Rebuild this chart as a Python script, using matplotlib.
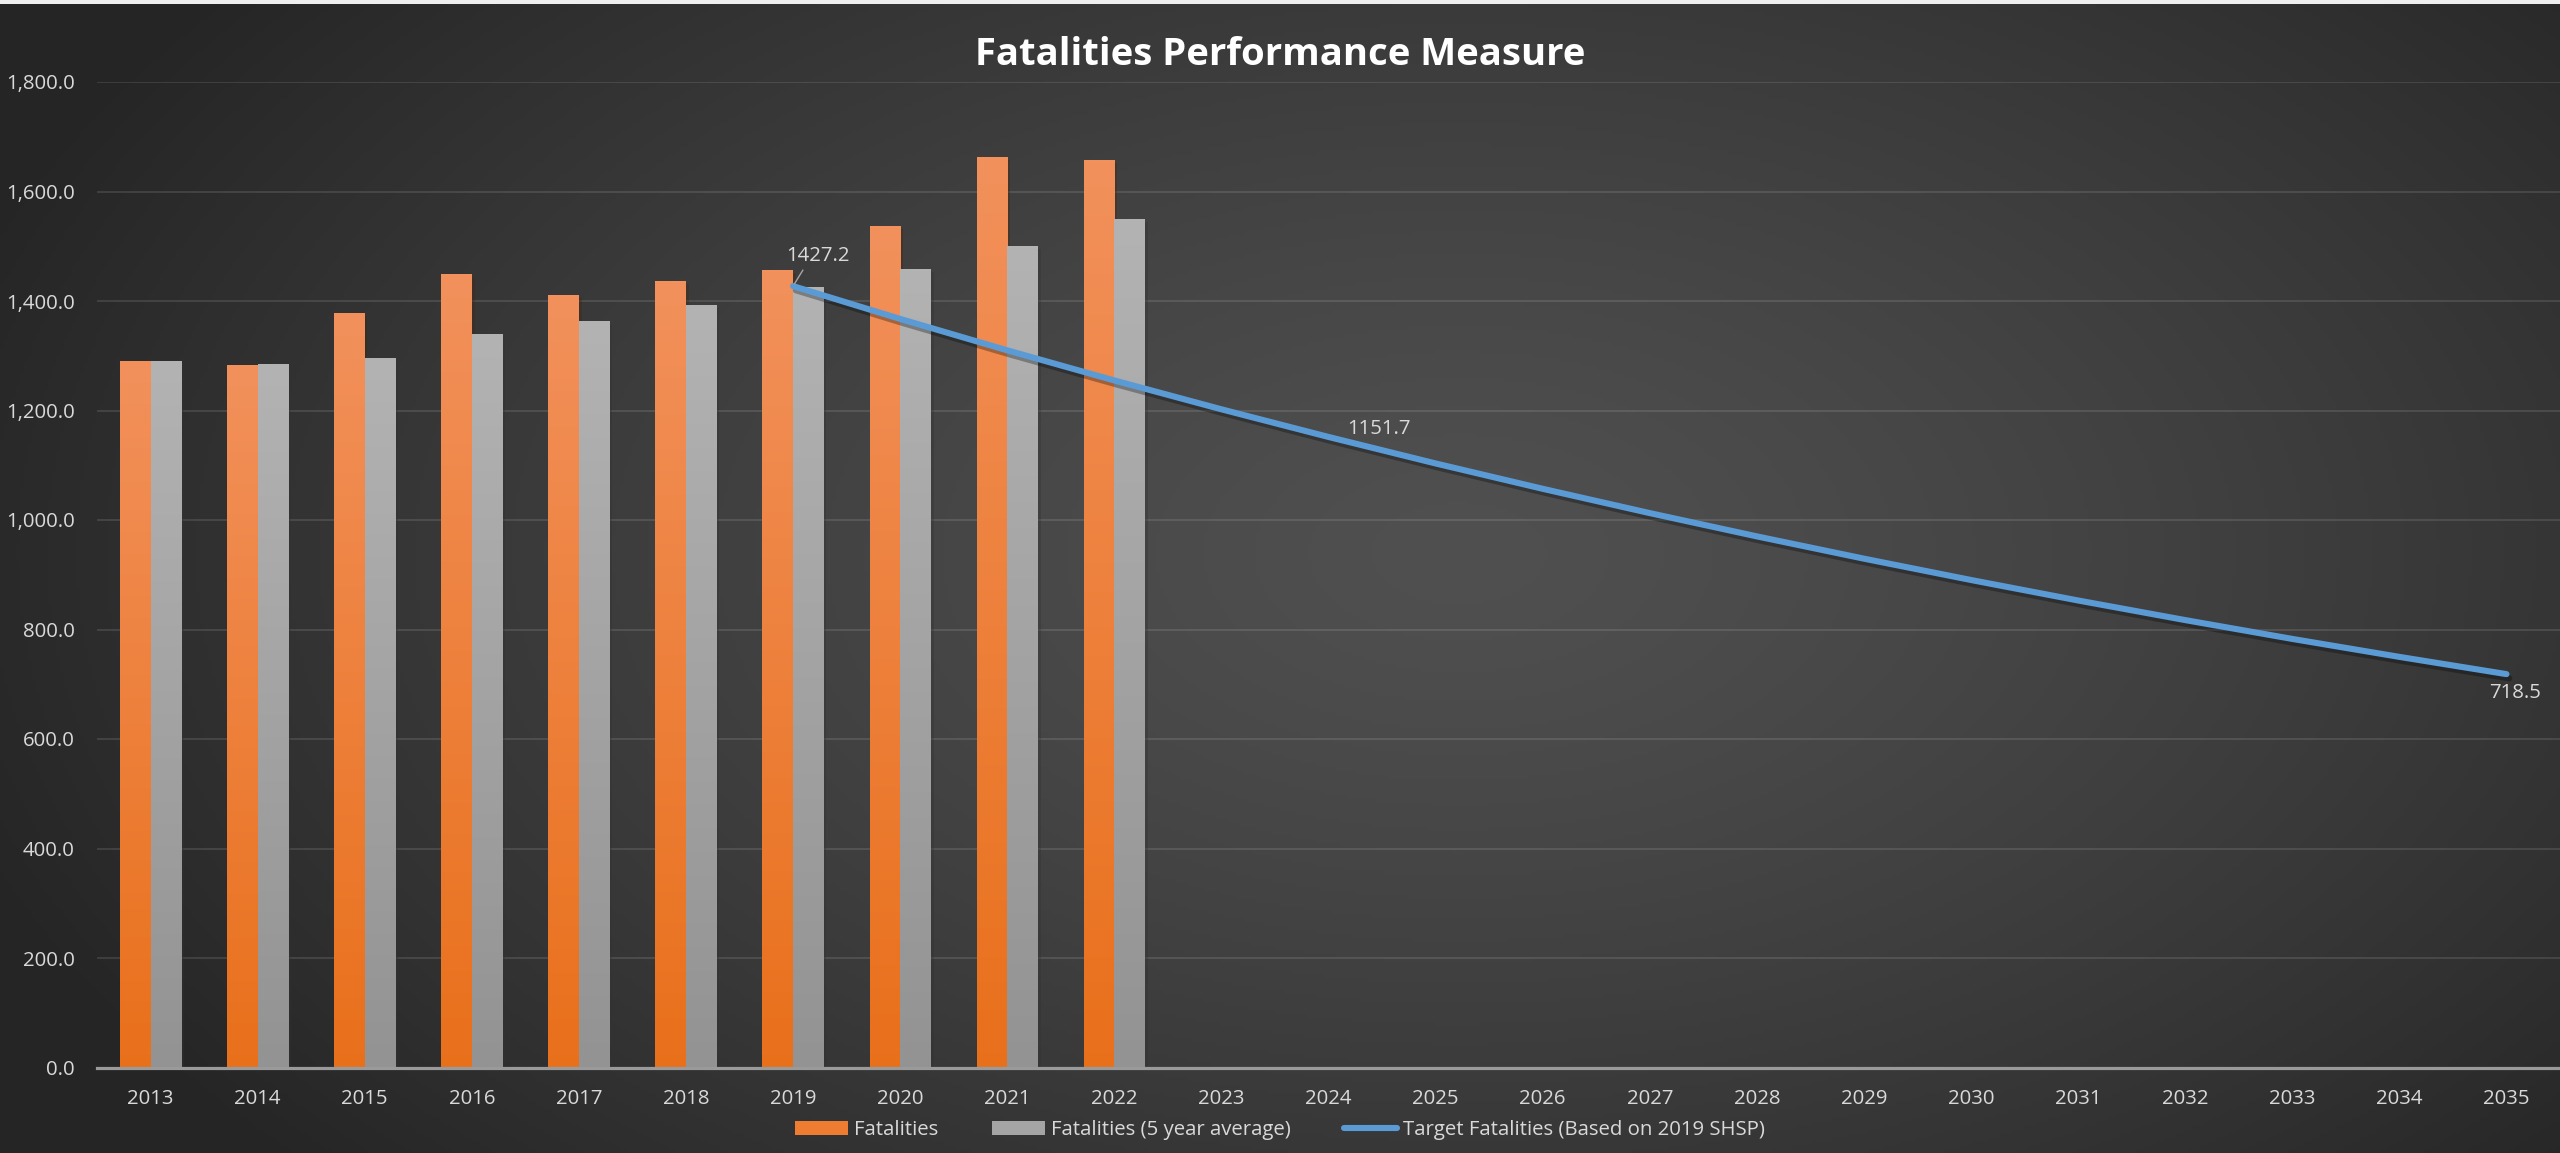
import numpy as np
import matplotlib
matplotlib.use("Agg")
import matplotlib.pyplot as plt
from matplotlib.colors import LinearSegmentedColormap
from matplotlib.patches import Patch, Rectangle
from matplotlib.lines import Line2D
import matplotlib.patheffects as pe

plt.rcParams['font.family'] = ['Open Sans', 'DejaVu Sans']

# ---------------- data ----------------
years = [str(y) for y in range(2013, 2036)]
fatalities = [1290, 1283, 1378, 1449, 1411, 1437, 1457, 1537, 1663, 1658]
fatalities_5yr = [1290, 1285, 1296, 1340, 1363, 1393, 1426, 1458, 1500, 1550]
target_years = years[6:]  # 2019 .. 2035
target = [1427.2, 1367.3, 1309.9, 1254.9, 1202.2, 1151.7, 1103.3, 1057.0,
          1012.6, 970.1, 929.4, 890.4, 853.0, 817.2, 782.8, 750.0, 718.5]
labelled = {"2019": "1427.2", "2024": "1151.7", "2035": "718.5"}
y_ticks = [0, 200, 400, 600, 800, 1000, 1200, 1400, 1600, 1800]

title = "Fatalities Performance Measure"
legend_labels = ["Fatalities", "Fatalities (5 year average)",
                 "Target Fatalities (Based on 2019 SHSP)"]

TXT = '#d9d9d9'
ORANGE = '#ee7d31'
GRAY = '#a5a5a5'
BLUE = '#5b9bd5'
FS = 14.7

fig = plt.figure(figsize=(25.6, 11.53), dpi=100)

# ---------------- background gradient ----------------
bg = fig.add_axes([0, 0, 1, 1], zorder=-10)
gx, gy = np.meshgrid(np.linspace(0, 1, 640), np.linspace(0, 1, 290))
d = np.sqrt(((gx - 0.57) / 0.62) ** 2 + ((gy - 0.52) / 0.80) ** 2)
d = np.clip(d, 0, 1)
val = (0x50 - (0x50 - 0x25) * d ** 1.3) / 255.0
img = np.dstack([val, val, val])
bg.imshow(img, extent=[0, 1, 0, 1], origin='lower', aspect='auto')
bg.set_axis_off()
fig.patches.append(Rectangle((0, 1 - 4 / 1153), 1, 4 / 1153, transform=fig.transFigure,
                             facecolor='#efefef', edgecolor='none', zorder=5))

# ---------------- main axes ----------------
ax = fig.add_axes([97 / 2560, 1 - 1067.5 / 1153, 2463 / 2560, (1067.5 - 82) / 1153])
ax.set_facecolor('none')

x = np.arange(len(years))
xb = np.arange(len(fatalities))
w = 0.286
b1 = ax.bar(xb - w / 2, fatalities, width=w, color=ORANGE, zorder=3,
            path_effects=[pe.SimplePatchShadow(offset=(2, -2), alpha=0.35), pe.Normal()])
b2 = ax.bar(xb + w / 2, fatalities_5yr, width=w, color=GRAY, zorder=3,
            path_effects=[pe.SimplePatchShadow(offset=(2, -2), alpha=0.35), pe.Normal()])

cm_or = LinearSegmentedColormap.from_list('or', ['#e9701b', '#f2915c'])
cm_gr = LinearSegmentedColormap.from_list('gr', ['#939393', '#b3b3b3'])
grad = np.linspace(0, 1, 256).reshape(-1, 1)
for bars, cm in ((b1, cm_or), (b2, cm_gr)):
    for p in bars.patches:
        x0, h, wd = p.get_x(), p.get_height(), p.get_width()
        im = ax.imshow(grad, extent=[x0, x0 + wd, 0, h], origin='lower',
                       aspect='auto', cmap=cm, zorder=3.5)
        im.set_clip_path(p)

tx = [years.index(y) for y in target_years]
ax.plot(tx, target, color=BLUE, lw=4.4, solid_capstyle='round', zorder=5,
        path_effects=[pe.SimpleLineShadow(offset=(2, -3), alpha=0.3, shadow_color='black'),
                      pe.Normal()])

# data labels
for yr, lab in labelled.items():
    i = target_years.index(yr)
    xi, yi = tx[i], target[i]
    if yr == "2019":
        ax.annotate(lab, (xi, yi), xytext=(25, 30), textcoords='offset pixels',
                    ha='center', va='center', color=TXT, fontsize=FS, zorder=6,
                    arrowprops=dict(arrowstyle='-', color='#a6a6a6', lw=1,
                                    shrinkA=1, shrinkB=2, relpos=(0.3, 0)))
    elif yr == "2024":
        ax.annotate(lab, (xi, yi), xytext=(50, 8), textcoords='offset pixels',
                    ha='center', va='center', color=TXT, fontsize=FS, zorder=6)
    else:
        ax.annotate(lab, (xi, yi), xytext=(9, -19), textcoords='offset pixels',
                    ha='center', va='center', color=TXT, fontsize=FS, zorder=6)

ax.set_xlim(-0.5, len(years) - 0.5)
ax.set_ylim(0, 1800)
ax.set_xticks(x)
ax.set_xticklabels(years)
ax.set_yticks(y_ticks)
ax.set_yticklabels([f"{v:,.1f}" for v in y_ticks])
ax.tick_params(axis='both', length=0, colors=TXT, labelsize=FS)
ax.tick_params(axis='y', pad=16)
ax.tick_params(axis='x', pad=15.5)
for s in ['top', 'right', 'left']:
    ax.spines[s].set_visible(False)
ax.spines['bottom'].set_color('#9a9a9a')
ax.spines['bottom'].set_linewidth(2.3)
ax.spines['bottom'].set_zorder(6)
ax.grid(axis='y', color='white', alpha=0.12, lw=1.3, zorder=0)
ax.set_axisbelow(True)

fig.text(0.5, 1 - 55 / 1153, title, ha='center', va='center', color='white',
         fontsize=27.5, fontweight='bold')

handles = [Patch(facecolor=ORANGE, edgecolor='none'),
           Patch(facecolor=GRAY, edgecolor='none'),
           Line2D([0], [0], color=BLUE, lw=4.4, solid_capstyle='round')]
leg = fig.legend(handles, legend_labels, loc='center', bbox_to_anchor=(0.5, 1 - 1130 / 1153),
                 ncol=3, frameon=False, fontsize=FS, labelcolor=TXT,
                 handlelength=2.6, handleheight=0.7, handletextpad=0.3, columnspacing=2.6)

fig.savefig('out.png', dpi=100)
